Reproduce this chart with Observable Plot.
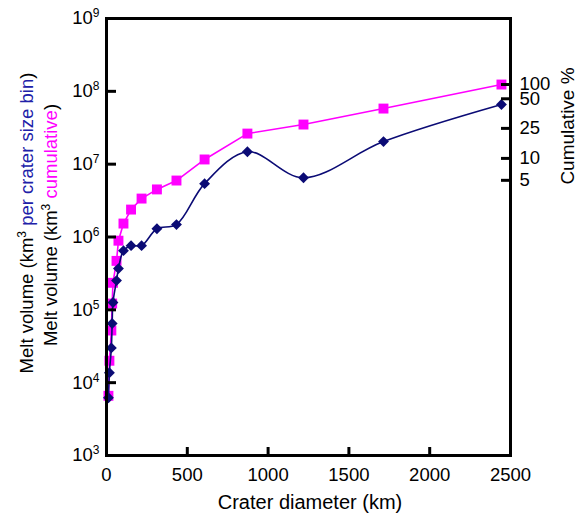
<!DOCTYPE html>
<html><head><meta charset="utf-8">
<script src="https://cdn.jsdelivr.net/npm/d3@7"></script>
<script src="https://cdn.jsdelivr.net/npm/@observablehq/plot@0.6"></script>
<style>
html,body{margin:0;padding:0;background:#fff;}
#chart{width:586px;height:514px;}
</style>
</head><body><div id="chart"></div><script>
// Crater diameter (km) of each size bin
const diameter = [12, 18, 30, 35, 40, 62, 74, 105, 152, 217, 312, 433, 607, 872, 1219, 1714, 2444];
// Melt volume per crater size bin (km^3)
const meltPerBin = [6.2e3, 1.37e4, 3.0e4, 6.5e4, 1.26e5, 2.52e5, 3.68e5, 6.5e5, 7.6e5, 7.6e5, 1.30e6, 1.48e6, 5.4e6, 1.48e7, 6.5e6, 2.04e7, 6.6e7];
// Cumulative melt volume (km^3)
const meltCumulative = [6.6e3, 2.0e4, 5.2e4, 1.22e5, 2.35e5, 4.7e5, 8.9e5, 1.53e6, 2.38e6, 3.37e6, 4.5e6, 5.96e6, 1.16e7, 2.63e7, 3.5e7, 5.8e7, 1.24e8];
// Axis ticks
const xTicks = [0, 500, 1000, 1500, 2000, 2500];
const yTicks = [1e3, 1e4, 1e5, 1e6, 1e7, 1e8, 1e9];
// Right axis: cumulative % labels and the melt volume where each sits
const pctLabels = ["100", "50", "25", "10", "5"];
const pctVolume = [1.24e8, 7.9e7, 3.1e7, 1.2e7, 6.0e6];

const BLUE = "#0b0b75";
const MAGENTA = "#ff00ff";

const perBin = diameter.map((d, i) => ({d, v: meltPerBin[i]}));
const cum = diameter.map((d, i) => ({d, v: meltCumulative[i]}));
const pct = pctVolume.map((v, i) => ({v, label: pctLabels[i]}));

const svg = Plot.plot({
  width: 586, height: 514,
  marginLeft: 106, marginRight: 76, marginTop: 18, marginBottom: 59,
  style: {fontFamily: "'Liberation Sans', Arial, sans-serif", fontSize: "18.5px", color: "black", background: "white", overflow: "visible"},
  x: {domain: [0, 2500]},
  y: {type: "log", domain: [1e3, 1e9]},
  marks: [
    Plot.line(cum, {x: "d", y: "v", stroke: MAGENTA, strokeWidth: 1.6}),
    Plot.dot(cum, {x: "d", y: "v", symbol: "square", r: 5.6, fill: MAGENTA, stroke: "none"}),
    Plot.line(perBin, {x: "d", y: "v", stroke: BLUE, strokeWidth: 1.6, curve: "catmull-rom"}),
    Plot.dot(perBin, {x: "d", y: "v", symbol: "diamond2", r: 4.9, fill: BLUE, stroke: "none"}),
    Plot.frame({stroke: "black", strokeWidth: 3}),
    Plot.axisX({ticks: xTicks, tickSize: -8, tickPadding: 20, strokeWidth: 3, label: null, tickFormat: d => String(d)}),
    Plot.axisY({anchor: "left", ticks: yTicks, tickSize: -10, tickPadding: 17, strokeWidth: 3, label: null, tickFormat: d => "10^" + Math.round(Math.log10(d))}),
    Plot.axisY({anchor: "right", ticks: pctVolume, tickSize: -10, tickPadding: 19, strokeWidth: 3, label: null, tickFormat: () => ""}),
    Plot.text(pct, {y: "v", text: "label", frameAnchor: "right", dx: 9, textAnchor: "start", fontSize: 18.5, fill: "black"})
  ]
});

const s = d3.select(svg);
s.selectAll("text").each(function() {
  const t = d3.select(this);
  const m = t.text().match(/^10\^(\d+)$/);
  if (m) {
    t.text("10");
    t.append("tspan").attr("dy", "-7").attr("font-size", "12px").text(m[1]);
  }
});

const font = "'Liberation Sans', Arial, sans-serif";
function title(x, y, rot, size, parts) {
  const t = s.append("text")
    .attr("transform", `translate(${x},${y}) rotate(${rot})`)
    .attr("text-anchor", "middle")
    .attr("font-family", font).attr("font-size", size + "px");
  parts.forEach(p => {
    const ts = t.append("tspan").attr("fill", p.c || "black").text(p.t);
    if (p.sup) ts.attr("font-size", "12px").attr("dy", "-7");
    if (p.after) ts.attr("dy", "7");
  });
}
title(310, 509, 0, 20, [{t: "Crater diameter (km)"}]);
title(33, 223, -90, 18.5, [{t: "Melt volume (km"}, {t: "3", sup: true}, {t: " ", after: true}, {t: "per crater size bin", c: "#2020a8"}, {t: ")"}]);
title(56.5, 225, -90, 18.5, [{t: "Melt volume (km"}, {t: "3", sup: true}, {t: " ", after: true}, {t: "cumulative", c: MAGENTA}, {t: ")"}]);
title(574, 126, -90, 19, [{t: "Cumulative %"}]);

document.getElementById("chart").appendChild(svg);
</script></body></html>
